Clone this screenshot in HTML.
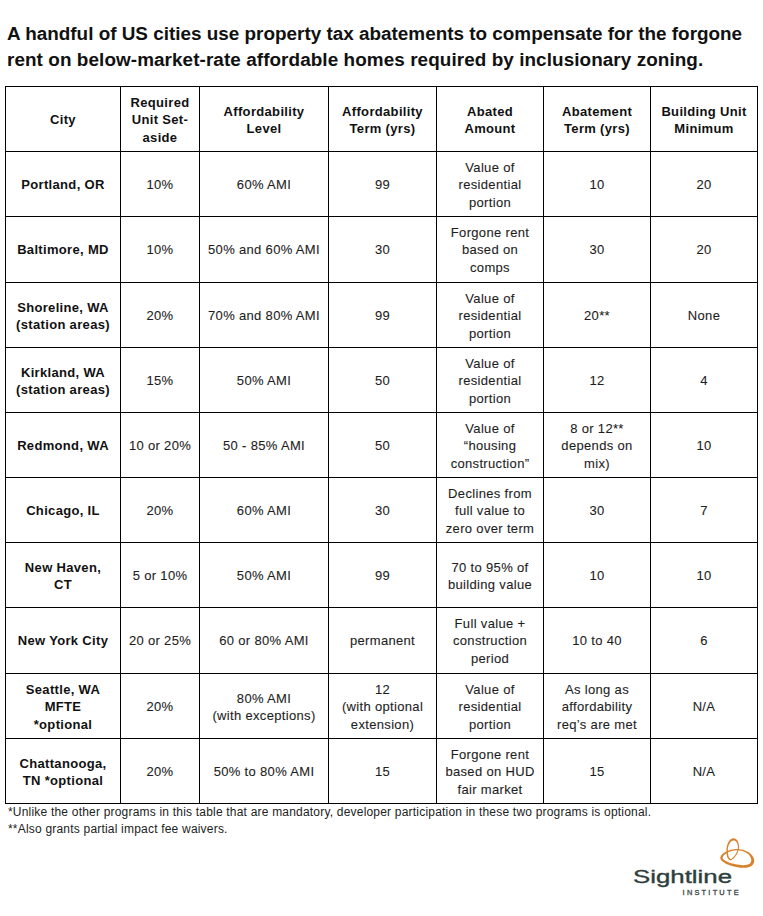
<!DOCTYPE html>
<html><head><meta charset="utf-8"><title>Property tax abatements table</title><style>
*{margin:0;padding:0;box-sizing:border-box}
html,body{width:763px;height:916px;background:#fff;overflow:hidden}
body{position:relative;font-family:"Liberation Sans",sans-serif;color:#1a1a1a}
.t{position:absolute;left:7px;font-weight:bold;font-size:18.9px;color:#111;white-space:nowrap;letter-spacing:0px}
.h{position:absolute;background:#000;height:1px}
.v{position:absolute;background:#000;width:1px}
.c{position:absolute;display:flex;align-items:center;justify-content:center;text-align:center;font-size:13px;line-height:17.4px;letter-spacing:0.33px;padding-top:2.2px;color:#1e1e1e;-webkit-text-stroke:0.1px #1e1e1e}
.b{font-weight:bold;color:#111;-webkit-text-stroke:0}
.fn{position:absolute;left:8px;font-size:12px;letter-spacing:0.2px;color:#222;white-space:nowrap}
</style></head>
<body>
<div class="t" style="top:23px">A handful of US cities use property tax abatements to compensate for the forgone</div>
<div class="t" style="top:48.5px;letter-spacing:0.075px">rent on below-market-rate affordable homes required by inclusionary zoning.</div>
<div class="h" style="left:5px;top:86px;width:753px"></div>
<div class="h" style="left:5px;top:151px;width:753px"></div>
<div class="h" style="left:5px;top:216px;width:753px"></div>
<div class="h" style="left:5px;top:282px;width:753px"></div>
<div class="h" style="left:5px;top:347px;width:753px"></div>
<div class="h" style="left:5px;top:412px;width:753px"></div>
<div class="h" style="left:5px;top:477px;width:753px"></div>
<div class="h" style="left:5px;top:542px;width:753px"></div>
<div class="h" style="left:5px;top:607px;width:753px"></div>
<div class="h" style="left:5px;top:673px;width:753px"></div>
<div class="h" style="left:5px;top:738px;width:753px"></div>
<div class="h" style="left:5px;top:803px;width:753px"></div>
<div class="v" style="left:5px;top:86px;height:718px"></div>
<div class="v" style="left:120px;top:86px;height:718px"></div>
<div class="v" style="left:199px;top:86px;height:718px"></div>
<div class="v" style="left:328px;top:86px;height:718px"></div>
<div class="v" style="left:436px;top:86px;height:718px"></div>
<div class="v" style="left:543px;top:86px;height:718px"></div>
<div class="v" style="left:650px;top:86px;height:718px"></div>
<div class="v" style="left:757px;top:86px;height:718px"></div>
<div class="c b" style="left:6px;top:87px;width:114px;height:64px">City</div>
<div class="c b" style="left:121px;top:87px;width:78px;height:64px">Required<br>Unit Set-<br>aside</div>
<div class="c b" style="left:200px;top:87px;width:128px;height:64px">Affordability<br>Level</div>
<div class="c b" style="left:329px;top:87px;width:107px;height:64px">Affordability<br>Term (yrs)</div>
<div class="c b" style="left:437px;top:87px;width:106px;height:64px">Abated<br>Amount</div>
<div class="c b" style="left:544px;top:87px;width:106px;height:64px">Abatement<br>Term (yrs)</div>
<div class="c b" style="left:651px;top:87px;width:106px;height:64px">Building Unit<br>Minimum</div>
<div class="c b" style="left:6px;top:152px;width:114px;height:64px">Portland, OR</div>
<div class="c" style="left:121px;top:152px;width:78px;height:64px">10%</div>
<div class="c" style="left:200px;top:152px;width:128px;height:64px">60% AMI</div>
<div class="c" style="left:329px;top:152px;width:107px;height:64px">99</div>
<div class="c" style="left:437px;top:152px;width:106px;height:64px">Value of<br>residential<br>portion</div>
<div class="c" style="left:544px;top:152px;width:106px;height:64px">10</div>
<div class="c" style="left:651px;top:152px;width:106px;height:64px">20</div>
<div class="c b" style="left:6px;top:217px;width:114px;height:64px">Baltimore, MD</div>
<div class="c" style="left:121px;top:217px;width:78px;height:64px">10%</div>
<div class="c" style="left:200px;top:217px;width:128px;height:64px">50% and 60% AMI</div>
<div class="c" style="left:329px;top:217px;width:107px;height:64px">30</div>
<div class="c" style="left:437px;top:217px;width:106px;height:64px">Forgone rent<br>based on<br>comps</div>
<div class="c" style="left:544px;top:217px;width:106px;height:64px">30</div>
<div class="c" style="left:651px;top:217px;width:106px;height:64px">20</div>
<div class="c b" style="left:6px;top:283px;width:114px;height:64px">Shoreline, WA<br>(station areas)</div>
<div class="c" style="left:121px;top:283px;width:78px;height:64px">20%</div>
<div class="c" style="left:200px;top:283px;width:128px;height:64px">70% and 80% AMI</div>
<div class="c" style="left:329px;top:283px;width:107px;height:64px">99</div>
<div class="c" style="left:437px;top:283px;width:106px;height:64px">Value of<br>residential<br>portion</div>
<div class="c" style="left:544px;top:283px;width:106px;height:64px">20**</div>
<div class="c" style="left:651px;top:283px;width:106px;height:64px">None</div>
<div class="c b" style="left:6px;top:348px;width:114px;height:64px">Kirkland, WA<br>(station areas)</div>
<div class="c" style="left:121px;top:348px;width:78px;height:64px">15%</div>
<div class="c" style="left:200px;top:348px;width:128px;height:64px">50% AMI</div>
<div class="c" style="left:329px;top:348px;width:107px;height:64px">50</div>
<div class="c" style="left:437px;top:348px;width:106px;height:64px">Value of<br>residential<br>portion</div>
<div class="c" style="left:544px;top:348px;width:106px;height:64px">12</div>
<div class="c" style="left:651px;top:348px;width:106px;height:64px">4</div>
<div class="c b" style="left:6px;top:413px;width:114px;height:64px">Redmond, WA</div>
<div class="c" style="left:121px;top:413px;width:78px;height:64px">10 or 20%</div>
<div class="c" style="left:200px;top:413px;width:128px;height:64px">50 - 85% AMI</div>
<div class="c" style="left:329px;top:413px;width:107px;height:64px">50</div>
<div class="c" style="left:437px;top:413px;width:106px;height:64px">Value of<br>&#8220;housing<br>construction&#8221;</div>
<div class="c" style="left:544px;top:413px;width:106px;height:64px">8 or 12**<br>depends on<br>mix)</div>
<div class="c" style="left:651px;top:413px;width:106px;height:64px">10</div>
<div class="c b" style="left:6px;top:478px;width:114px;height:64px">Chicago, IL</div>
<div class="c" style="left:121px;top:478px;width:78px;height:64px">20%</div>
<div class="c" style="left:200px;top:478px;width:128px;height:64px">60% AMI</div>
<div class="c" style="left:329px;top:478px;width:107px;height:64px">30</div>
<div class="c" style="left:437px;top:478px;width:106px;height:64px">Declines from<br>full value to<br>zero over term</div>
<div class="c" style="left:544px;top:478px;width:106px;height:64px">30</div>
<div class="c" style="left:651px;top:478px;width:106px;height:64px">7</div>
<div class="c b" style="left:6px;top:543px;width:114px;height:64px">New Haven,<br>CT</div>
<div class="c" style="left:121px;top:543px;width:78px;height:64px">5 or 10%</div>
<div class="c" style="left:200px;top:543px;width:128px;height:64px">50% AMI</div>
<div class="c" style="left:329px;top:543px;width:107px;height:64px">99</div>
<div class="c" style="left:437px;top:543px;width:106px;height:64px">70 to 95% of<br>building value</div>
<div class="c" style="left:544px;top:543px;width:106px;height:64px">10</div>
<div class="c" style="left:651px;top:543px;width:106px;height:64px">10</div>
<div class="c b" style="left:6px;top:608px;width:114px;height:64px">New York City</div>
<div class="c" style="left:121px;top:608px;width:78px;height:64px">20 or 25%</div>
<div class="c" style="left:200px;top:608px;width:128px;height:64px">60 or 80% AMI</div>
<div class="c" style="left:329px;top:608px;width:107px;height:64px">permanent</div>
<div class="c" style="left:437px;top:608px;width:106px;height:64px">Full value +<br>construction<br>period</div>
<div class="c" style="left:544px;top:608px;width:106px;height:64px">10 to 40</div>
<div class="c" style="left:651px;top:608px;width:106px;height:64px">6</div>
<div class="c b" style="left:6px;top:674px;width:114px;height:64px">Seattle, WA<br>MFTE<br>*optional</div>
<div class="c" style="left:121px;top:674px;width:78px;height:64px">20%</div>
<div class="c" style="left:200px;top:674px;width:128px;height:64px">80% AMI<br>(with exceptions)</div>
<div class="c" style="left:329px;top:674px;width:107px;height:64px">12<br>(with optional<br>extension)</div>
<div class="c" style="left:437px;top:674px;width:106px;height:64px">Value of<br>residential<br>portion</div>
<div class="c" style="left:544px;top:674px;width:106px;height:64px">As long as<br>affordability<br>req&#8217;s are met</div>
<div class="c" style="left:651px;top:674px;width:106px;height:64px">N/A</div>
<div class="c b" style="left:6px;top:739px;width:114px;height:64px">Chattanooga,<br>TN *optional</div>
<div class="c" style="left:121px;top:739px;width:78px;height:64px">20%</div>
<div class="c" style="left:200px;top:739px;width:128px;height:64px">50% to 80% AMI</div>
<div class="c" style="left:329px;top:739px;width:107px;height:64px">15</div>
<div class="c" style="left:437px;top:739px;width:106px;height:64px">Forgone rent<br>based on HUD<br>fair market</div>
<div class="c" style="left:544px;top:739px;width:106px;height:64px">15</div>
<div class="c" style="left:651px;top:739px;width:106px;height:64px">N/A</div>
<div class="fn" style="top:805px">*Unlike the other programs in this table that are mandatory, developer participation in these two programs is optional.</div>
<div class="fn" style="top:821.7px">**Also grants partial impact fee waivers.</div>
<svg style="position:absolute;left:0;top:0" width="763" height="916" viewBox="0 0 763 916">
<g fill="#d8812a" fill-rule="evenodd">
<path d="M720.3 858.2C720.3 853.5 729 849 737 849C746 849 753.5 854 754.2 860C754.8 865 750 867.8 744 867.8C734 867.8 721 863 720.3 858.2ZM722.6 858C722.8 854.5 730 850.3 737 850.3C745 850.3 751 854.8 751.3 859.8C751.6 863.6 748 865.2 744 865.2C736 865.2 723 861.5 722.6 858Z"/>
<path d="M733.5 838.3C737 838.3 739 842 739 847C739 852 735.5 858 731 860.2C728 860.8 726.4 856 726.4 851C726.4 844 729.5 838.3 733.5 838.3ZM733.6 840.6C736.1 840.6 737.9 843.2 737.9 847C737.9 851.5 734.6 857 731.2 858.9C729.1 859.2 727.8 855.5 727.8 851C727.8 845 730.5 840.6 733.6 840.6Z"/>
</g>
<text x="633" y="883.4" font-family="Liberation Sans" font-size="18.7" fill="#2e3e3a" stroke="#2e3e3a" stroke-width="0.35" textLength="99" lengthAdjust="spacingAndGlyphs">Sightline</text>
<text x="682.6" y="895.3" font-family="Liberation Sans" font-size="7.4" fill="#3a4744" stroke="#3a4744" stroke-width="0.3" textLength="56" lengthAdjust="spacing">INSTITUTE</text>
</svg>
</body></html>
